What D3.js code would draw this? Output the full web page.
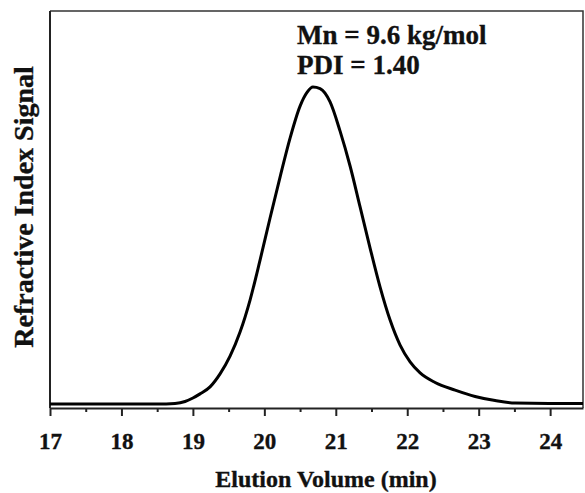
<!DOCTYPE html>
<html>
<head>
<meta charset="utf-8">
<script src="https://cdn.jsdelivr.net/npm/d3@7"></script>
<style>
	body { margin: 0; background: #fff; }
	svg { display: block; }
	text { font-family: "Liberation Serif", "Times New Roman", serif; font-weight: bold; fill: #111; stroke: #111; stroke-width: 0.35px; }
</style>
</head>
<body>
<div id="chart"></div>
<script>
const totalWidth = 585;
const totalHeight = 493;
const margin = { left: 50, right: 2, top: 11, bottom: 85 };
const plotWidth = totalWidth - margin.left - margin.right;
const plotHeight = totalHeight - margin.top - margin.bottom;

// elution volume (min) and normalised RI signal
const elution = [17.0, 18.0, 18.5, 18.75, 18.89, 19.0, 19.1, 19.24, 19.38, 19.52, 19.66, 19.8, 19.94, 20.08, 20.22, 20.36, 20.5, 20.6, 20.68, 20.78, 20.92, 21.06, 21.2, 21.34, 21.48, 21.62, 21.76, 21.9, 22.04, 22.18, 22.39, 22.67, 22.95, 23.23, 23.51, 24.0, 24.46];
const signal = [0, 0, 0, 0.002, 0.008, 0.019, 0.032, 0.054, 0.095, 0.151, 0.227, 0.328, 0.454, 0.587, 0.716, 0.839, 0.94, 0.984, 1.0, 0.995, 0.953, 0.861, 0.751, 0.622, 0.492, 0.369, 0.265, 0.186, 0.133, 0.098, 0.068, 0.044, 0.024, 0.011, 0.003, 0.002, 0.002];
const majorTicks = [17, 18, 19, 20, 21, 22, 23, 24];
const minorTicks = [17.5, 18.5, 19.5, 20.5, 21.5, 22.5, 23.5];
const notes = ["Mn = 9.6 kg/mol", "PDI = 1.40"];

const x = d3.scaleLinear().domain([17, 24.46]).range([0, plotWidth]);
const y = d3.scaleLinear().domain([-0.0125, 1.24]).range([plotHeight, 0]);

const svg = d3.select("#chart")
	.append("svg")
	.attr("width", totalWidth)
	.attr("height", totalHeight);

const g = svg.append("g").attr("transform", "translate(" + margin.left + "," + margin.top + ")");

// frame: top and right edges
g.append("path")
	.attr("d", `M0,0H${plotWidth}V${plotHeight}`)
	.attr("fill", "none")
	.attr("stroke", "#333")
	.attr("stroke-width", 1.5);

// minor ticks
g.append("g")
	.attr("transform", "translate(0," + plotHeight + ")")
	.call(d3.axisBottom(x).tickValues(minorTicks).tickSize(4).tickFormat(""))
	.call((a) => a.select(".domain").remove())
	.call((a) => a.selectAll("line").attr("stroke", "#222").attr("stroke-width", 2));

// major ticks + labels
const xAxisG = g.append("g")
	.attr("transform", "translate(0," + plotHeight + ")")
	.call(d3.axisBottom(x).tickValues(majorTicks).tickSize(8).tickSizeOuter(0).tickFormat(d3.format("d")));
xAxisG.select(".domain").attr("stroke", "#222").attr("stroke-width", 2);
xAxisG.selectAll("line").attr("stroke", "#222").attr("stroke-width", 2);
xAxisG.selectAll("text")
	.attr("y", 41)
	.attr("dy", null)
	.style("font-size", "23px")
	.style("font-family", "'Liberation Serif', serif")
	.style("font-weight", "bold")
	.attr("fill", "#111");

// left axis line, no ticks
g.append("line")
	.attr("x1", 0).attr("x2", 0)
	.attr("y1", 0).attr("y2", plotHeight)
	.attr("stroke", "#222")
	.attr("stroke-width", 2);

const line = d3.line()
	.x((d, i) => x(elution[i]))
	.y((d) => y(d))
	.curve(d3.curveMonotoneX);

g.append("path")
	.datum(signal)
	.attr("fill", "none")
	.attr("stroke", "#000")
	.attr("stroke-width", 3)
	.attr("d", line);

// annotation
g.selectAll(".note")
	.data(notes)
	.enter()
	.append("text")
	.attr("class", "note")
	.attr("x", 247)
	.attr("y", (d, i) => 33 + i * 30)
	.style("font-size", "27px")
	.text((d) => d);

svg.append("text")
	.attr("x", 326)
	.attr("y", 487)
	.style("text-anchor", "middle")
	.style("font-size", "24px")
	.text("Elution Volume (min)");

svg.append("text")
	.attr("transform", "rotate(-90)")
	.attr("x", -207)
	.attr("y", 33)
	.style("text-anchor", "middle")
	.style("font-size", "28px")
	.text("Refractive Index Signal");
</script>
</body>
</html>
